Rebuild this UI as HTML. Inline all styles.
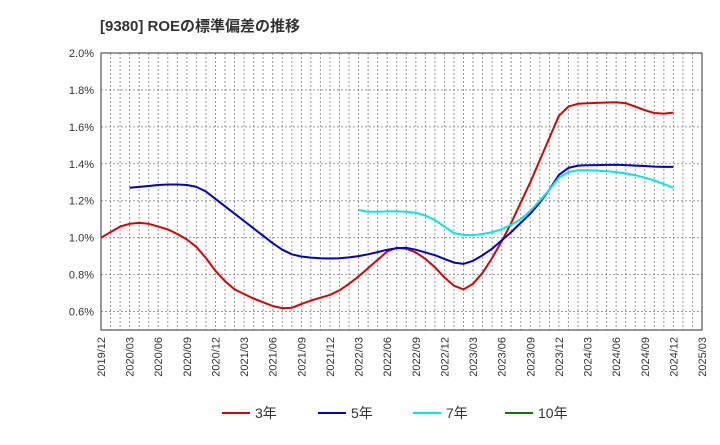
<!DOCTYPE html>
<html><head><meta charset="utf-8"><style>
body{margin:0;background:#fff;font-family:"Liberation Sans","Noto Sans CJK JP",sans-serif;}
svg text{font-family:"Liberation Sans","Noto Sans CJK JP",sans-serif;}
</style></head><body>
<svg id="chart" width="720" height="440" xmlns="http://www.w3.org/2000/svg">
<text x="100" y="31" font-size="15" font-weight="bold" fill="#333">[9380]  ROEの標準偏差の推移</text>
<g id="grid"></g><g id="axes"></g><g id="series"></g><g id="legend"></g>
</svg>
<script>
const yTicks=[0.6,0.8,1.0,1.2,1.4,1.6,1.8,2.0];
const xLabels=["2019/12","2020/03","2020/06","2020/09","2020/12","2021/03","2021/06","2021/09","2021/12","2022/03","2022/06","2022/09","2022/12","2023/03","2023/06","2023/09","2023/12","2024/03","2024/06","2024/09","2024/12","2025/03"];
const s3=[1.00,1.03,1.06,1.075,1.08,1.075,1.06,1.045,1.02,0.99,0.95,0.89,0.82,0.765,0.72,0.695,0.67,0.65,0.63,0.618,0.62,0.64,0.66,0.675,0.69,0.715,0.75,0.79,0.835,0.88,0.925,0.945,0.94,0.92,0.885,0.84,0.785,0.74,0.72,0.75,0.81,0.89,0.98,1.08,1.19,1.30,1.42,1.54,1.66,1.71,1.725,1.728,1.73,1.732,1.733,1.728,1.71,1.69,1.675,1.672,1.677];
const s5start=3;
const s5=[1.27,1.275,1.28,1.285,1.288,1.288,1.285,1.275,1.25,1.21,1.17,1.13,1.09,1.05,1.01,0.97,0.935,0.91,0.898,0.892,0.888,0.887,0.888,0.893,0.90,0.91,0.922,0.935,0.943,0.945,0.935,0.92,0.905,0.885,0.865,0.858,0.875,0.905,0.94,0.985,1.03,1.08,1.13,1.19,1.26,1.34,1.378,1.39,1.392,1.393,1.394,1.395,1.393,1.39,1.388,1.385,1.383,1.383];
const s7start=27;
const s7=[1.15,1.14,1.14,1.142,1.142,1.14,1.135,1.12,1.095,1.06,1.025,1.015,1.013,1.02,1.03,1.045,1.07,1.10,1.145,1.20,1.26,1.325,1.355,1.365,1.365,1.363,1.36,1.355,1.348,1.338,1.325,1.31,1.29,1.27];
const legendNames=["3年","5年","7年","10年"];
const colors=["#e00000","#0000d0","#00e8e8","#008000"];
const L=101,R=702,T=53,B=330,months=63;
const X=i=>L+i*(R-L)/months;
const Y=v=>T+(2.0-v)*(B-T)/1.5;
const NS="http://www.w3.org/2000/svg";
function mk(tag,attrs,parent){const e=document.createElementNS(NS,tag);for(const k in attrs)e.setAttribute(k,attrs[k]);document.getElementById(parent).appendChild(e);return e;}
for(let i=1;i<months;i++){const e=mk("line",{x1:X(i),x2:X(i),y1:T,y2:B,stroke:"#999","stroke-dasharray":"2,2","stroke-width":1},"grid");

}
yTicks.forEach(v=>{const e=mk("line",{x1:L,x2:R,y1:Y(v),y2:Y(v),stroke:"#999","stroke-dasharray":"2,2","stroke-width":1},"grid");


const t=mk("text",{x:L-7,y:Y(v)+4,"text-anchor":"end","font-size":11,fill:"#333"},"axes");t.textContent=v.toFixed(1)+"%";

});
const fr=mk("rect",{x:L,y:T,width:R-L,height:B-T,fill:"none",stroke:"#333","stroke-width":1},"axes");


xLabels.forEach((lab,k)=>{const x=X(k*3);const t=mk("text",{x:0,y:0,transform:`translate(${x+4},${B+7}) rotate(-90)`,"text-anchor":"end","font-size":11,fill:"#333"},"axes");t.textContent=lab;

});
function line(arr,start,c,name){const p=arr.map((v,i)=>X(start+i).toFixed(1)+","+Y(v).toFixed(1)).join(" ");
const e=mk("polyline",{points:p,fill:"none",stroke:c,"stroke-width":2,"stroke-linejoin":"round"},"series");

}
line(s3,0,colors[0],'series-3y');
line(s5,s5start,colors[1],'series-5y');
line(s7,s7start,colors[2],'series-7y');
const lx=[222,318,413,505];
legendNames.forEach((n,i)=>{const l=mk("line",{x1:lx[i],x2:lx[i]+28,y1:413,y2:413,stroke:colors[i],"stroke-width":2},"legend");


const t=mk("text",{x:lx[i]+33,y:418,"font-size":14,fill:"#333"},"legend");t.textContent=n;

});
</script>
</body></html>
